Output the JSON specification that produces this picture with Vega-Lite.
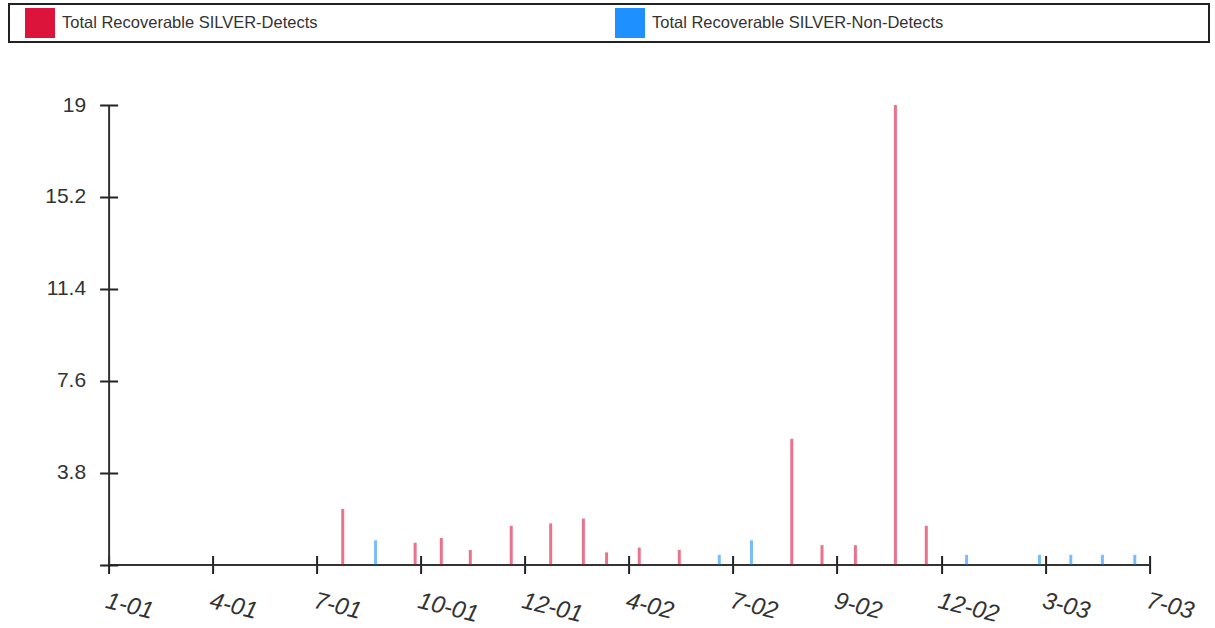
{
  "$schema": "https://vega.github.io/schema/vega-lite/v6.json",
  "autosize": {"type": "none"},
  "width": 1040.7,
  "height": 459.5,
  "padding": {"left": 108.6, "top": 105, "right": 65.7, "bottom": 63.5},
  "background": "white",
  "config": {
    "view": {"stroke": null},
    "font": "Liberation Sans"
  },
  "data": {
    "format": {"parse": {"date": "utc:'%Y-%m-%d'"}},
    "values": [
      {"date": "2001-07-24", "value": 2.3, "series": "Total Recoverable SILVER-Detects"},
      {"date": "2001-08-22", "value": 1.0, "series": "Total Recoverable SILVER-Non-Detects"},
      {"date": "2001-09-26", "value": 0.9, "series": "Total Recoverable SILVER-Detects"},
      {"date": "2001-10-13", "value": 1.1, "series": "Total Recoverable SILVER-Detects"},
      {"date": "2001-10-30", "value": 0.6, "series": "Total Recoverable SILVER-Detects"},
      {"date": "2001-11-23", "value": 1.6, "series": "Total Recoverable SILVER-Detects"},
      {"date": "2001-12-31", "value": 1.7, "series": "Total Recoverable SILVER-Detects"},
      {"date": "2002-02-07", "value": 1.9, "series": "Total Recoverable SILVER-Detects"},
      {"date": "2002-03-06", "value": 0.5, "series": "Total Recoverable SILVER-Detects"},
      {"date": "2002-04-10", "value": 0.7, "series": "Total Recoverable SILVER-Detects"},
      {"date": "2002-05-15", "value": 0.6, "series": "Total Recoverable SILVER-Detects"},
      {"date": "2002-06-19", "value": 0.4, "series": "Total Recoverable SILVER-Non-Detects"},
      {"date": "2002-07-12", "value": 1.0, "series": "Total Recoverable SILVER-Non-Detects"},
      {"date": "2002-08-05", "value": 5.2, "series": "Total Recoverable SILVER-Detects"},
      {"date": "2002-08-23", "value": 0.8, "series": "Total Recoverable SILVER-Detects"},
      {"date": "2002-09-17", "value": 0.8, "series": "Total Recoverable SILVER-Detects"},
      {"date": "2002-10-22", "value": 19, "series": "Total Recoverable SILVER-Detects"},
      {"date": "2002-11-18", "value": 1.6, "series": "Total Recoverable SILVER-Detects"},
      {"date": "2002-12-23", "value": 0.4, "series": "Total Recoverable SILVER-Non-Detects"},
      {"date": "2003-02-24", "value": 0.4, "series": "Total Recoverable SILVER-Non-Detects"},
      {"date": "2003-03-31", "value": 0.4, "series": "Total Recoverable SILVER-Non-Detects"},
      {"date": "2003-05-07", "value": 0.4, "series": "Total Recoverable SILVER-Non-Detects"},
      {"date": "2003-06-14", "value": 0.4, "series": "Total Recoverable SILVER-Non-Detects"}
    ]
  },
  "layer": [
    {
      "mark": {"type": "bar", "width": 3, "opacity": 0.6},
      "encoding": {
        "x": {
          "field": "date", "type": "quantitative",
          "scale": {
            "type": "linear", "nice": false, "zero": false, "padding": 0,
            "domain": [978307200000, 986083200000, 993945600000, 1001894400000, 1007164800000, 1017619200000, 1025481600000, 1030838400000, 1038700800000, 1046476800000, 1057017600000],
            "range": [0, 104.07, 208.14, 312.21, 416.28, 520.35, 624.42, 728.49, 832.56, 936.63, 1040.7]
          },
          "axis": {
            "orient": "bottom",
            "title": null,
            "values": [978307200000, 986083200000, 993945600000, 1001894400000, 1007164800000, 1017619200000, 1025481600000, 1030838400000, 1038700800000, 1046476800000, 1057017600000],
            "labelExpr": "utcFormat(datum.value, '%-m-%y')",
            "grid": false,
            "domainColor": "#333",
            "domainWidth": 2,
            "tickColor": "#222",
            "tickWidth": 2,
            "tickSize": 9,
            "labelFontSize": 24,
            "labelFontStyle": "italic",
            "labelColor": "#333",
            "labelAngle": 14,
            "labelAlign": "left",
            "labelBaseline": "top",
            "labelPadding": 15,
            "labelOverlap": false,
            "labelFlush": false
          }
        },
        "y": {
          "field": "value", "type": "quantitative",
          "scale": {"domain": [0, 19], "nice": false, "zero": true, "padding": 0},
          "axis": {
            "orient": "left",
            "title": null,
            "values": [0, 3.8, 7.6, 11.4, 15.2, 19],
            "labelExpr": "datum.value == 0 ? '' : format(datum.value, '.1~f')",
            "grid": false,
            "domainColor": "#333",
            "domainWidth": 2,
            "tickColor": "#222",
            "tickWidth": 2,
            "tickSize": 9,
            "labelFontSize": 21,
            "labelColor": "#333",
            "labelPadding": 14
          }
        },
        "color": {
          "field": "series", "type": "nominal",
          "scale": {
            "domain": ["Total Recoverable SILVER-Detects", "Total Recoverable SILVER-Non-Detects"],
            "range": ["#DC143C", "#1E90FF"]
          },
          "legend": {
            "orient": "none",
            "legendX": -99.6,
            "legendY": -101,
            "direction": "horizontal",
            "columns": 2,
            "title": " ",
            "titleOrient": "right",
            "titlePadding": 262,
            "titleFontSize": 10,
            "symbolType": "square",
            "symbolSize": 900,
            "symbolOpacity": 1,
            "symbolStrokeWidth": 0,
            "symbolOffset": 12,
            "labelOffset": 7,
            "labelFontSize": 16.5,
            "labelColor": "#333",
            "labelLimit": 0,
            "columnPadding": 285,
            "padding": 4,
            "strokeColor": "#222",
            "encode": {"legend": {"update": {"strokeWidth": {"value": 2}}}}
          }
        }
      }
    },
    {
      "mark": {"type": "bar", "width": 3, "opacity": 0},
      "encoding": {
        "x": {
          "field": "date", "type": "quantitative",
          "scale": {
            "type": "linear", "nice": false, "zero": false, "padding": 0,
            "domain": [978307200000, 986083200000, 993945600000, 1001894400000, 1007164800000, 1017619200000, 1025481600000, 1030838400000, 1038700800000, 1046476800000, 1057017600000],
            "range": [0, 104.07, 208.14, 312.21, 416.28, 520.35, 624.42, 728.49, 832.56, 936.63, 1040.7]
          },
          "axis": {
            "orient": "bottom",
            "title": null,
            "values": [978307200000, 986083200000, 993945600000, 1001894400000, 1007164800000, 1017619200000, 1025481600000, 1030838400000, 1038700800000, 1046476800000, 1057017600000],
            "labels": false,
            "domain": false,
            "grid": false,
            "tickColor": "#222",
            "tickWidth": 2,
            "tickSize": -9
          }
        },
        "y": {
          "field": "value", "type": "quantitative",
          "scale": {"domain": [0, 19], "nice": false, "zero": true, "padding": 0},
          "axis": {
            "orient": "left",
            "title": null,
            "values": [0, 3.8, 7.6, 11.4, 15.2, 19],
            "labels": false,
            "domain": false,
            "grid": false,
            "tickColor": "#222",
            "tickWidth": 2,
            "tickSize": -9
          }
        }
      }
    }
  ],
  "resolve": {
    "scale": {"x": "independent", "y": "independent"},
    "axis": {"x": "independent", "y": "independent"}
  }
}
